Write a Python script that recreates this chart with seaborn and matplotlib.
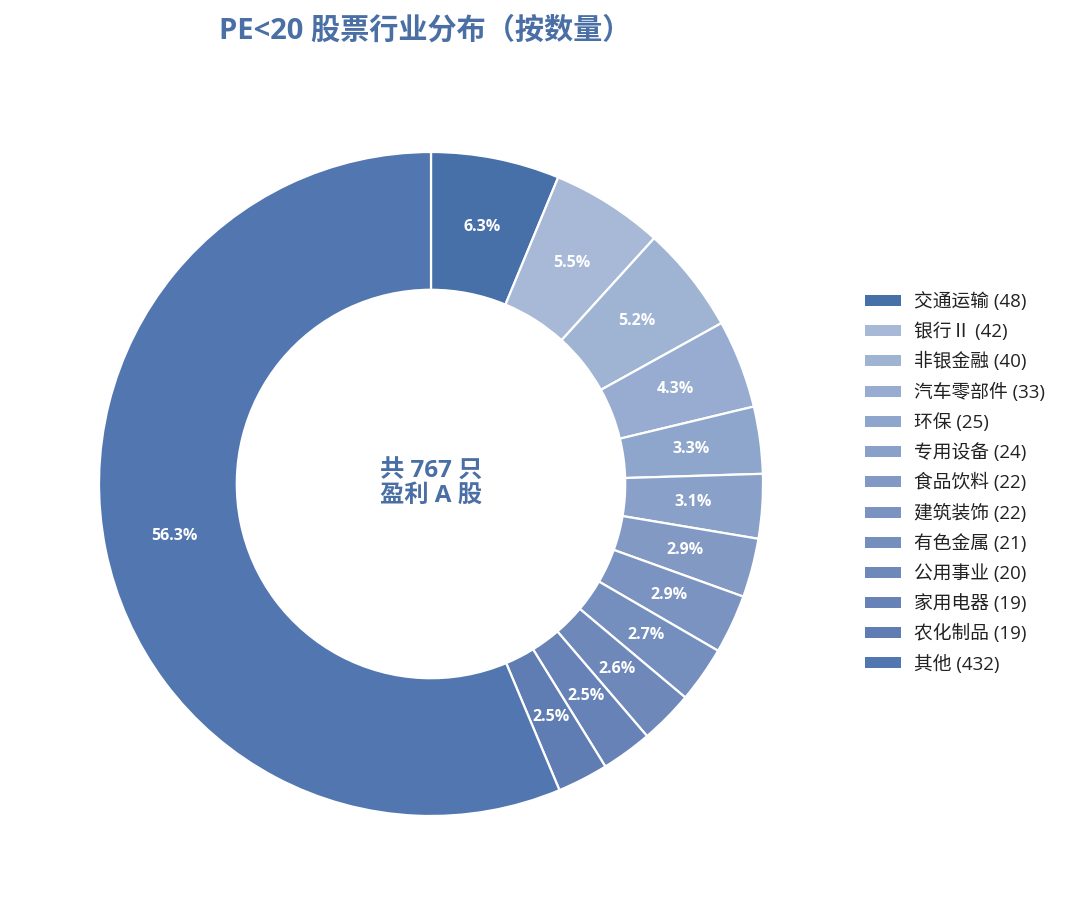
import matplotlib
matplotlib.use("Agg")
import matplotlib.pyplot as plt
import seaborn as sns

industries = ["交通运输", "银行Ⅱ", "非银金融", "汽车零部件", "环保", "专用设备",
              "食品饮料", "建筑装饰", "有色金属", "公用事业", "家用电器", "农化制品", "其他"]
counts = [48, 42, 40, 33, 25, 24, 22, 22, 21, 20, 19, 19, 432]
total_label = "共 767 只\n盈利 A 股"
title_text = "PE<20 股票行业分布（按数量）"

colors = ["#476fa8", "#a7b9d6", "#9fb3d3", "#97acd0", "#8fa6cc", "#89a0c8",
          "#8299c4", "#7b93c0", "#748ebd", "#6d88b9", "#6682b6", "#5f7db3", "#5277b0"]

sns.set_theme(style="white")
plt.rcParams['font.family'] = ['Open Sans', 'Noto Sans CJK SC', 'DejaVu Sans']

fig = plt.figure(figsize=(10.73, 9.15), dpi=100)
ax = fig.add_axes([65.8 / 1073, 65.8 / 915, 730.4 / 1073, 730.4 / 915])

wedges, texts, autotexts = ax.pie(
    counts, colors=colors, startangle=90, counterclock=False,
    autopct=lambda p: f"{p:.1f}%", pctdistance=0.79,
    wedgeprops=dict(width=0.415, edgecolor="white", linewidth=1.6),
    textprops=dict(color="white", fontsize=11.5, fontweight="bold"),
)
ax.set_xlim(-1.1, 1.1)
ax.set_ylim(-1.1, 1.1)
ax.set_aspect("equal")

ax.text(0, 0, total_label, ha="center", va="center", fontsize=17.5,
        fontweight="bold", color="#4a6fa5", linespacing=1.0)

fig.text(425 / 1073, 1 - 31 / 915, title_text, ha="center", va="center",
         fontsize=21, fontweight="bold", color="#4a6fa5")

labels = [f"{n} ({c})" for n, c in zip(industries, counts)]
leg = fig.legend(wedges, labels, loc="center left",
                 bbox_to_anchor=(865 / 1073, 1 - 483 / 915),
                 frameon=False, fontsize=13.5, handlelength=1.92, handleheight=0.53,
                 labelspacing=0.6, handletextpad=0.7, borderaxespad=0,
                 borderpad=0)
for h in leg.legend_handles:
    h.set_edgecolor("none")
for t in leg.get_texts():
    t.set_color("#222222")

fig.savefig("out.png", dpi=100, facecolor="white")
